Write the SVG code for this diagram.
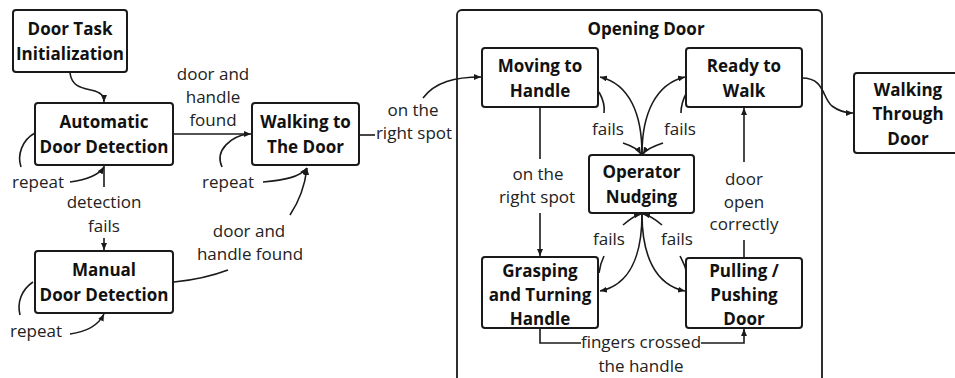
<svg xmlns="http://www.w3.org/2000/svg" width="955" height="378" viewBox="0 0 955 378">
<defs>
<style>
.box{fill:#fff;stroke:#1a1a1a;stroke-width:2}
.cont{fill:none;stroke:#1a1a1a;stroke-width:1.8}
.t{font-family:"Open Sans","Liberation Sans",sans-serif;font-weight:bold;font-size:17px;fill:#111;text-anchor:middle}
.l{font-family:"Open Sans","Liberation Sans",sans-serif;font-size:17px;fill:#222;text-anchor:middle}
.c{fill:none;stroke:#1a1a1a;stroke-width:1.6}
.a{marker-end:url(#ah)}
</style>
<marker id="ah" markerUnits="userSpaceOnUse" markerWidth="8" markerHeight="6" refX="7" refY="3" orient="auto"><path d="M0,0 L7,3 L0,6 z" fill="#1a1a1a"/></marker>
</defs>
<rect width="955" height="378" fill="#fff"/>

<g id="opening-door">
<rect class="cont" x="457" y="10" width="365" height="380" rx="5"/>
<text class="t" x="646" y="35">Opening Door</text>
</g>

<g id="connectors">
<path class="c a" d="M70,73 C72,88 84,88 95,91 C103,94 104,97 104,102"/>
<path class="c a" d="M174,134 L251,134"/>
<path class="c" d="M35,133 C22,140 17,155 21,167"/>
<path class="c a" d="M70,182 C85,180 98,176 104,167"/>
<path class="c" d="M104,166 L104,187"/>
<path class="c a" d="M104,238 L104,250"/>
<path class="c" d="M33,282 C21,290 17,303 20,315"/>
<path class="c a" d="M70,334 C85,332 98,326 104,314"/>
<path class="c" d="M174,282 C195,280 212,276 228,270"/>
<path class="c a" d="M290,215 C300,200 305,185 307,168"/>
<path class="c a" d="M263,182 C285,180 300,177 307,168"/>
<path class="c" d="M222,167 C214,150 232,136 248,134"/>
<path class="c" d="M359,135 L375,135"/>
<path class="c a" d="M423,98 C435,82 455,77 481,77"/>
<path class="c" d="M540,107 L540,159"/>
<path class="c a" d="M540,213 L540,256"/>
<path class="c a" d="M744,162 L744,108"/>
<path class="c" d="M744,258 L744,240"/>
<path class="c" d="M540,328 L540,343 L581,343"/>
<path class="c a" d="M701,343 L744,343 L744,329"/>
<path class="c a" d="M802,78 C825,78 822,98 832,106 C840,112 846,113 853,113"/>
<path class="c a" d="M642,154 C642,115 630,84 600,77"/>
<path class="c" d="M599,92 C603,99 605,106 604,113"/>
<path class="c a" d="M623,143 C632,146 638,149 641,154"/>
<path class="c a" d="M642,154 C642,115 655,84 685,77"/>
<path class="c" d="M687,92 C683,99 681,106 681,113"/>
<path class="c a" d="M663,143 C654,146 646,149 643,154"/>
<path class="c a" d="M642,214 C642,255 630,285 600,291"/>
<path class="c" d="M599,273 C600,265 602,260 604,256"/>
<path class="c a" d="M623,225 C630,219 636,215 641,214"/>
<path class="c a" d="M642,214 C642,255 655,285 685,291"/>
<path class="c" d="M687,273 C685,265 682,260 680,256"/>
<path class="c a" d="M662,225 C655,219 648,215 643,214"/>
</g>

<g id="labels">
<text class="l" x="213" y="80">door and</text>
<text class="l" x="213" y="103">handle</text>
<text class="l" x="213" y="126">found</text>
<text class="l" x="38" y="188">repeat</text>
<text class="l" x="228" y="188">repeat</text>
<text class="l" x="104" y="208">detection</text>
<text class="l" x="104" y="232">fails</text>
<text class="l" x="36" y="337">repeat</text>
<text class="l" x="249" y="237">door and</text>
<text class="l" x="250" y="260">handle found</text>
<text class="l" x="413" y="116">on the</text>
<text class="l" x="414" y="139">right spot</text>
<text class="l" x="538" y="180">on the</text>
<text class="l" x="537" y="203">right spot</text>
<text class="l" x="744" y="185">door</text>
<text class="l" x="744" y="208">open</text>
<text class="l" x="744" y="230">correctly</text>
<text class="l" x="641" y="348">fingers crossed</text>
<text class="l" x="641" y="372">the handle</text>
<text class="l" x="608" y="135">fails</text>
<text class="l" x="680" y="135">fails</text>
<text class="l" x="609" y="245">fails</text>
<text class="l" x="677" y="245">fails</text>
</g>

<g id="door-task-init">
<rect class="box" x="13" y="10" width="114" height="62" rx="3"/>
<text class="t" x="70" y="35">Door Task</text>
<text class="t" x="70" y="60">Initialization</text>
</g>
<g id="automatic-detection">
<rect class="box" x="35" y="103" width="138" height="62" rx="3"/>
<text class="t" x="104" y="128">Automatic</text>
<text class="t" x="104" y="153">Door Detection</text>
</g>
<g id="walking-to-door">
<rect class="box" x="252" y="103" width="107" height="62" rx="3"/>
<text class="t" x="305.5" y="128">Walking to</text>
<text class="t" x="305.5" y="153">The Door</text>
</g>
<g id="manual-detection">
<rect class="box" x="35" y="251" width="138" height="62" rx="3"/>
<text class="t" x="104" y="276">Manual</text>
<text class="t" x="104" y="301">Door Detection</text>
</g>
<g id="moving-to-handle">
<rect class="box" x="482" y="48" width="116" height="59" rx="3"/>
<text class="t" x="540" y="72">Moving to</text>
<text class="t" x="540" y="97">Handle</text>
</g>
<g id="ready-to-walk">
<rect class="box" x="686" y="48" width="116" height="59" rx="3"/>
<text class="t" x="744" y="72">Ready to</text>
<text class="t" x="744" y="97">Walk</text>
</g>
<g id="operator-nudging">
<rect class="box" x="589" y="155" width="105" height="58" rx="3"/>
<text class="t" x="641.5" y="178">Operator</text>
<text class="t" x="641.5" y="203">Nudging</text>
</g>
<g id="grasping">
<rect class="box" x="482" y="257" width="116" height="71" rx="3"/>
<text class="t" x="540" y="277">Grasping</text>
<text class="t" x="540" y="301">and Turning</text>
<text class="t" x="540" y="325">Handle</text>
</g>
<g id="pulling-pushing">
<rect class="box" x="686" y="258" width="116" height="70" rx="3"/>
<text class="t" x="744" y="277">Pulling /</text>
<text class="t" x="744" y="301">Pushing</text>
<text class="t" x="744" y="325">Door</text>
</g>
<g id="walking-through">
<rect class="box" x="854" y="73" width="112" height="80" rx="3"/>
<text class="t" x="908" y="96">Walking</text>
<text class="t" x="908" y="120">Through</text>
<text class="t" x="908" y="145">Door</text>
</g>
</svg>
